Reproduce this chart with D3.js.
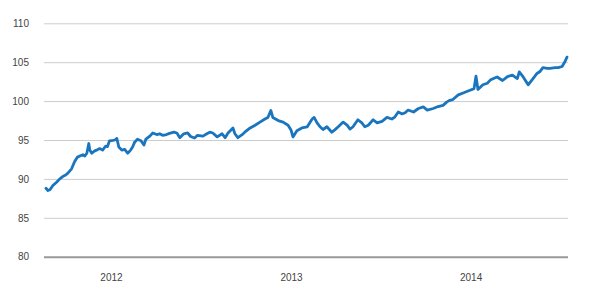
<!DOCTYPE html>
<html>
<head>
<meta charset="utf-8">
<script src="https://cdn.jsdelivr.net/npm/d3@7"></script>
<style>
  body { margin: 0; background: #fff; }
  text { font-family: Arial, "Liberation Sans", sans-serif; }
</style>
</head>
<body>
<div id="chart"></div>
<script>
// Values
const dates = [
  "2011-08-22","2011-08-26","2011-08-30","2011-09-05","2011-09-13","2011-09-19","2011-09-25",
  "2011-10-01","2011-10-05","2011-10-09","2011-10-13","2011-10-19","2011-10-25",
  "2011-11-01","2011-11-05","2011-11-09","2011-11-13","2011-11-17","2011-11-19","2011-11-23","2011-11-29",
  "2011-12-03","2011-12-09","2011-12-15","2011-12-21","2011-12-25","2011-12-29",
  "2012-01-05","2012-01-09","2012-01-13","2012-01-17","2012-01-23","2012-01-29",
  "2012-02-04","2012-02-10","2012-02-14","2012-02-18","2012-02-24",
  "2012-03-02","2012-03-08","2012-03-12","2012-03-20","2012-03-26",
  "2012-04-03","2012-04-09","2012-04-15","2012-04-23","2012-04-29",
  "2012-05-08","2012-05-14","2012-05-20","2012-05-28",
  "2012-06-05","2012-06-11","2012-06-19","2012-06-25",
  "2012-07-06","2012-07-14","2012-07-20","2012-07-26",
  "2012-08-04","2012-08-14","2012-08-20","2012-08-26",
  "2012-09-05","2012-09-09","2012-09-15","2012-09-23","2012-09-29",
  "2012-10-10","2012-10-20","2012-10-30",
  "2012-11-09","2012-11-15","2012-11-21","2012-11-25",
  "2012-12-06","2012-12-16","2012-12-26",
  "2013-01-01","2013-01-05","2013-01-13","2013-01-23",
  "2013-02-03","2013-02-13","2013-02-17","2013-02-23",
  "2013-03-01","2013-03-07","2013-03-15","2013-03-25","2013-03-31",
  "2013-04-07","2013-04-17","2013-04-25",
  "2013-05-01","2013-05-07","2013-05-17","2013-05-25","2013-05-31",
  "2013-06-07","2013-06-17","2013-06-25",
  "2013-07-05","2013-07-15","2013-07-25","2013-07-31",
  "2013-08-07","2013-08-15","2013-08-21","2013-08-27",
  "2013-09-07","2013-09-17","2013-09-27",
  "2013-10-05","2013-10-17","2013-10-27",
  "2013-11-06","2013-11-14","2013-11-20","2013-11-26",
  "2013-12-07","2013-12-17","2013-12-23","2013-12-31",
  "2014-01-08","2014-01-12","2014-01-16","2014-01-26",
  "2014-02-04","2014-02-10","2014-02-20","2014-02-24",
  "2014-03-07","2014-03-17","2014-03-27",
  "2014-04-06","2014-04-10","2014-04-18","2014-04-28",
  "2014-05-08","2014-05-16","2014-05-22","2014-05-28",
  "2014-06-06","2014-06-12","2014-06-22","2014-06-28",
  "2014-07-06","2014-07-12","2014-07-16"
];
const values = [
  88.8, 88.5, 88.6, 89.15, 89.6, 90.0, 90.3,
  90.5, 90.7, 91.0, 91.3, 92.2, 92.8,
  93.0, 93.1, 92.95, 93.3, 94.55, 93.7, 93.3, 93.6,
  93.7, 93.9, 93.7, 94.2, 94.15, 94.9,
  94.95, 95.0, 95.2, 94.1, 93.7, 93.8,
  93.3, 93.7, 94.1, 94.7, 95.1,
  94.9, 94.35, 95.1, 95.5, 95.9,
  95.7, 95.8, 95.6, 95.7, 95.85,
  96.0, 95.9, 95.3, 95.8,
  95.9, 95.45, 95.25, 95.6,
  95.5, 95.8, 96.0, 95.9,
  95.4, 95.8, 95.3, 95.9,
  96.55, 95.8, 95.3, 95.65, 96.0,
  96.55, 96.9, 97.3,
  97.7, 97.9, 98.8, 97.9,
  97.5, 97.3, 96.9,
  96.3, 95.4, 96.2, 96.55,
  96.7, 97.7, 97.9, 97.2,
  96.7, 96.35, 96.7, 96.0, 96.3,
  96.7, 97.3, 96.9,
  96.4, 96.7, 97.6, 97.2, 96.7,
  96.9, 97.6, 97.2,
  97.4, 97.9, 97.7, 97.95,
  98.6, 98.35, 98.5, 98.85,
  98.6, 99.05, 99.25,
  98.85, 99.05, 99.3,
  99.45, 99.9, 100.1, 100.2,
  100.8, 101.05, 101.2, 101.4,
  101.6, 103.2, 101.5, 102.1,
  102.3, 102.7, 103.0, 103.1,
  102.65, 103.15, 103.35,
  102.9, 103.75, 103.1, 102.1,
  102.9, 103.55, 103.8, 104.3,
  104.2, 104.2, 104.3, 104.3,
  104.45, 105.1, 105.65
];
const yTicks = [80, 85, 90, 95, 100, 105, 110];
const xTickYears = ["2012", "2013", "2014"];

const width = 590;
const height = 304;
const parse = d3.timeParse("%Y-%m-%d");
const data = dates.map((d, i) => ({ date: parse(d), value: values[i] }));

const svg = d3.select('#chart').append('svg')
    .attr('width', width)
    .attr('height', height);

// Scales
const x = d3.scaleTime()
    .domain(d3.extent(data, d => d.date))
    .range([46, 567]);
const y = d3.scaleLinear()
    .domain([80, 110])
    .range([256.7, 23.3]);

const gridLeft = 44;
const gridRight = 568;

// Horizontal grid lines with labels
const yAxis = svg.append('g')
    .attr('transform', `translate(${gridLeft},0)`)
    .call(d3.axisLeft(y).tickValues(yTicks).tickSize(-(gridRight - gridLeft)).tickPadding(15));
yAxis.select('.domain').remove();
yAxis.selectAll('.tick line')
    .attr('stroke', d => d === 80 ? '#999' : '#ccc')
    .attr('stroke-width', d => d === 80 ? 2 : 1);
yAxis.selectAll('.tick text')
    .attr('fill', '#444')
    .style('font-size', '10px');

// Year labels
const xAxis = svg.append('g')
    .attr('transform', 'translate(0,271)')
    .call(d3.axisBottom(x)
        .tickValues(xTickYears.map(s => parse(s + "-01-01")))
        .tickFormat(d3.timeFormat("%Y"))
        .tickSize(0));
xAxis.select('.domain').remove();
xAxis.selectAll('.tick text')
    .attr('fill', '#444')
    .style('font-size', '10px');

// The series line
const line = d3.line()
    .x(d => x(d.date))
    .y(d => y(d.value));

svg.append('path')
    .datum(data)
    .attr('fill', 'none')
    .attr('stroke', '#1a75bf')
    .attr('stroke-width', 2.8)
    .attr('stroke-linejoin', 'round')
    .attr('stroke-linecap', 'round')
    .attr('d', line);
</script>
</body>
</html>
